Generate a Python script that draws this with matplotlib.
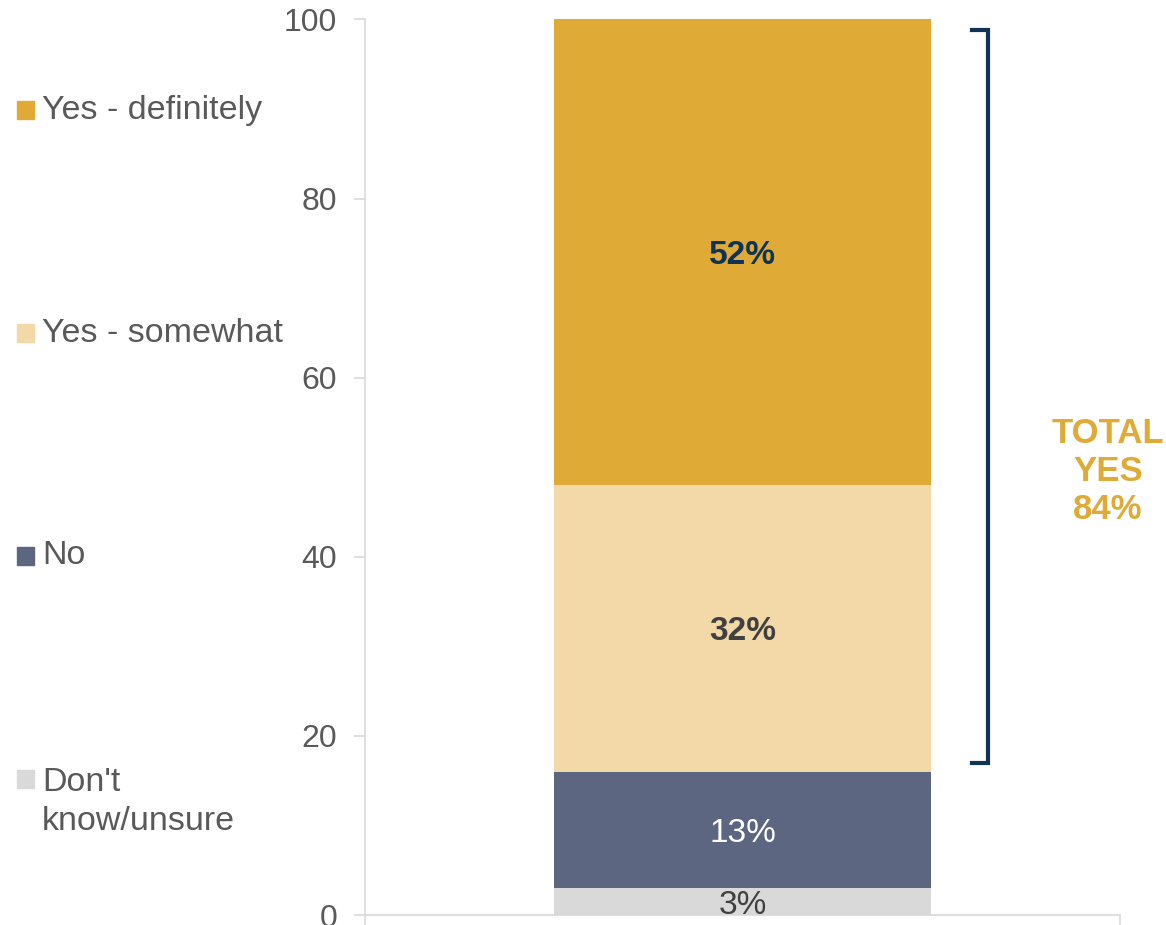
import matplotlib.pyplot as plt
from matplotlib.patches import Rectangle

plt.rcParams['font.family'] = ['Liberation Sans', 'DejaVu Sans']

# data (stack order: bottom to top)
categories = ["Don't\nknow/unsure", 'No', 'Yes - somewhat', 'Yes - definitely']
values = [3, 13, 32, 52]
colors = ['#d9d9d9', '#5c6680', '#f3d9a8', '#dfaa35']
label_colors = ['#404040', '#ffffff', '#404040', '#0e3354']
label_weights = ['normal', 'normal', 'bold', 'bold']
total_yes = values[2] + values[3]

fig = plt.figure(figsize=(11.66, 9.25), dpi=100)
ax = fig.add_axes([0.313, 0.0108, 0.6475, 0.9682])

bottom = 0
for v, c, lc, lw in zip(values, colors, label_colors, label_weights):
    ax.bar(0, v, width=0.5, bottom=bottom, color=c, zorder=2)
    ax.text(0, bottom + v / 2, f'{v}%', ha='center', va='center_baseline',
            color=lc, fontsize=24, fontweight=lw, zorder=3)
    bottom += v

ax.set_xlim(-0.5, 0.5)
ax.set_ylim(0, 100)
ax.set_yticks([0, 20, 40, 60, 80, 100])
ax.set_xticks([-0.5, 0.5])
ax.set_xticklabels([])
ax.tick_params(axis='y', labelsize=23, labelcolor='#595959', color='#d9d9d9',
               length=8, width=1.2, pad=12)
ax.tick_params(axis='x', color='#d9d9d9', length=8, width=1.2)
for s in ['top', 'right']:
    ax.spines[s].set_visible(False)
for s in ['left', 'bottom']:
    ax.spines[s].set_color('#d9d9d9')
    ax.spines[s].set_linewidth(1.2)

# bracket for total yes
y_lo = values[0] + values[1] + 1
y_hi = 100 - 1.2
bx, bl = 0.325, 0.304
ax.plot([bl, bx, bx, bl], [y_hi, y_hi, y_lo, y_lo], color='#0e3354',
        lw=3, solid_joinstyle='miter', clip_on=False, zorder=3)
ax.text(0.484, 49.5, f'TOTAL\nYES\n{total_yes}%', ha='center',
        va='center', color='#dfaa35', fontsize=25, fontweight='bold',
        linespacing=1.2, clip_on=False)

# manual legend on the left
legend_y = [110, 333, 556, 779]
for cat, c, ypix in zip(categories[::-1], colors[::-1], legend_y):
    yf = 1 - ypix / 925
    nlines = cat.count('\n') + 1
    fig.patches.append(Rectangle((17 / 1166, yf - 9 / 925), 17 / 1166, 18 / 925,
                                 transform=fig.transFigure, color=c))
    fig.text(42 / 1166, yf - (nlines - 1) * 23 / 925, cat, ha='left',
             va='center', fontsize=24.5, color='#595959', linespacing=1.33,
             transform=fig.transFigure)

fig.savefig('out.png', dpi=100)
